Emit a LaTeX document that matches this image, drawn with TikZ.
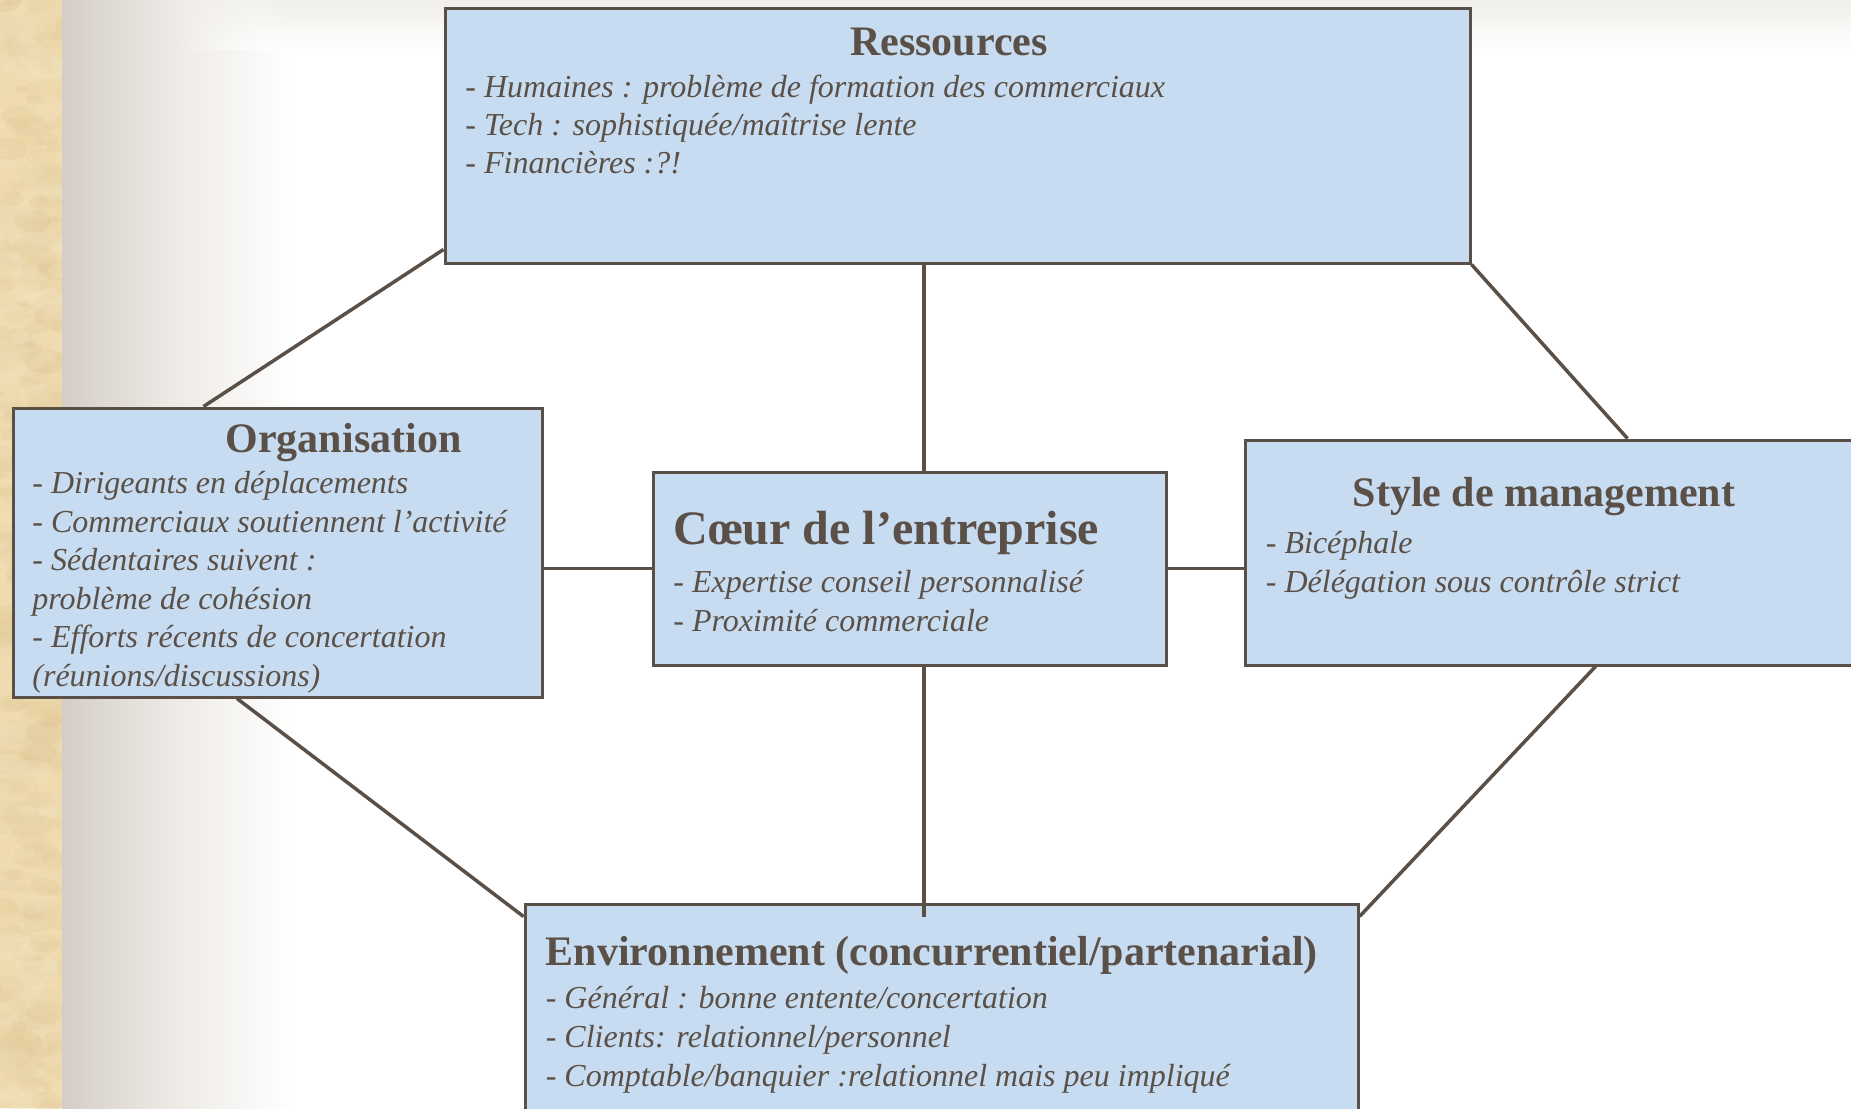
\documentclass[tikz,border=0pt]{standalone}
\usepackage{fontspec}
\setmainfont{Liberation Serif}
\usetikzlibrary{calc,fadings}
\definecolor{ink}{HTML}{5A5048}
\definecolor{boxfill}{HTML}{C7DCF0}
\definecolor{parchlight}{HTML}{F8EBC9}
\definecolor{parchdark}{HTML}{DCC08E}
\definecolor{parchbase}{HTML}{EFDBAE}
\definecolor{stripgray}{HTML}{D5CDC7}
\definecolor{stripmid}{HTML}{EEEBE6}
\definecolor{tophaze}{HTML}{F0EEE9}
\tikzfading[name=hazein, left color=transparent!100, right color=transparent!0]

\begin{document}
\begin{tikzpicture}[x=0.5pt,y=-0.5pt,
  panel/.style={draw=ink, fill=boxfill, line width=1.5pt, inner sep=0pt, rectangle},
  link/.style={draw=ink, line width=1.75pt},
  heading/.style={text=ink, font=\fontsize{21}{25}\selectfont\bfseries, inner sep=0pt, anchor=base},
  bigheading/.style={text=ink, font=\fontsize{24}{28}\selectfont\bfseries, inner sep=0pt, anchor=base west},
  item/.style={text=ink, font=\fontsize{16}{19}\selectfont\itshape, inner sep=0pt, anchor=base west}]

\useasboundingbox (0,0) rectangle (1851,1108);
\clip (0,0) rectangle (1851,1108);
\fill[white] (0,0) rectangle (1851,1108);

% parchment strip on the left
\begin{scope}
  \clip (0,0) rectangle (62,1108);
  \fill[parchbase] (0,0) rectangle (62,1108);
  \pgfmathsetseed{4217}
  \foreach \k in {1,...,700}{
    \pgfmathsetmacro{\bx}{rnd*62}
    \pgfmathsetmacro{\by}{rnd*1108}
    \pgfmathsetmacro{\br}{2+rnd*9}
    \pgfmathsetmacro{\bm}{int(rnd*100)}
    \fill[parchdark!\bm!parchlight, opacity=0.22] (\bx,\by) ellipse [x radius=\br pt, y radius=0.6*\br pt];
  }
\end{scope}

% soft grey fade next to the strip and along the top
\shade[left color=stripgray, right color=stripmid] (62,0) rectangle (175,1108);
\shade[left color=stripmid, right color=white] (175,0) rectangle (295,1108);
\shade[top color=tophaze, bottom color=white] (295,0) rectangle (1851,50);
\shade[top color=tophaze, bottom color=white, path fading=hazein] (175,0) rectangle (296,50);

% panels
\node[panel, minimum width=512.5pt, minimum height=127.5pt] (res) at (957.5,135.5) {};
\node[panel, minimum width=264.5pt, minimum height=144.5pt] (org) at (277.5,552.5) {};
\node[panel, minimum width=256.5pt, minimum height=96.5pt] (core) at (909.5,568.5) {};
\node[panel, minimum width=327.5pt, minimum height=112.5pt] (sty) at (1572.5,552.5) {};
\node[panel, minimum width=416.5pt, minimum height=113pt] (env) at (941.5,1017) {};

% connectors
\draw[link] ($(res.south west)+(0,-15)$) -- ($(org.north west)+(192,0)$);
\draw[link] ($(res.south west)+(480.5,0)$) -- ($(core.north west)+(272.5,0)$);
\draw[link] (res.south east) -- ($(sty.north west)+(384,0)$);
\draw[link] (org.east |- core.west) -- (core.west);
\draw[link] (core.east) -- (sty.west |- core.east);
\draw[link] ($(core.south west)+(272.5,0)$) -- ($(env.north west)+(400.5,14)$);
\draw[link] ($(org.south west)+(225.5,0)$) -- ($(env.north west)+(0,14)$);
\draw[link] ($(sty.south west)+(352,0)$) -- ($(env.north east)+(0,14)$);

% Ressources
\node[heading] (resT) at (949,55.5) {Ressources};
\node[item] (res1) at (465,97) {- Humaines : problème de formation des commerciaux};
\node[item] (res2) at (465,135.4) {- Tech : sophistiquée/maîtrise lente};
\node[item] (res3) at (465,173.8) {- Financières :?!};

% Organisation
\node[heading] (orgT) at (343.5,452) {Organisation};
\node[item] (org1) at (32,493.5) {- Dirigeants en déplacements};
\node[item] (org2) at (32,532) {- Commerciaux soutiennent l’activité};
\node[item] (org3) at (32,570.5) {- Sédentaires suivent :};
\node[item] (org4) at (32,609) {problème de cohésion};
\node[item] (org5) at (32,647.5) {- Efforts récents de concertation};
\node[item] (org6) at (32,686) {(réunions/discussions)};

% Coeur de l'entreprise
\node[bigheading] (coreT) at (673,544) {Cœur de l’entreprise};
\node[item] (core1) at (673,592) {- Expertise conseil personnalisé};
\node[item] (core2) at (673,631) {- Proximité commerciale};

% Style de management
\node[heading] (styT) at (1544,506.5) {Style de management};
\node[item] (sty1) at (1265.5,553.5) {- Bicéphale};
\node[item] (sty2) at (1265.5,592.5) {- Délégation sous contrôle strict};

% Environnement
\node[heading, anchor=base west] (envT) at (545.4,965.6) {Environnement (concurrentiel/partenarial)};
\node[item] (env1) at (545.4,1008.3) {- Général : bonne entente/concertation};
\node[item] (env2) at (545.4,1047.2) {- Clients: relationnel/personnel};
\node[item] (env3) at (545.4,1086.2) {- Comptable/banquier :relationnel mais peu impliqué};
\end{tikzpicture}
\end{document}
